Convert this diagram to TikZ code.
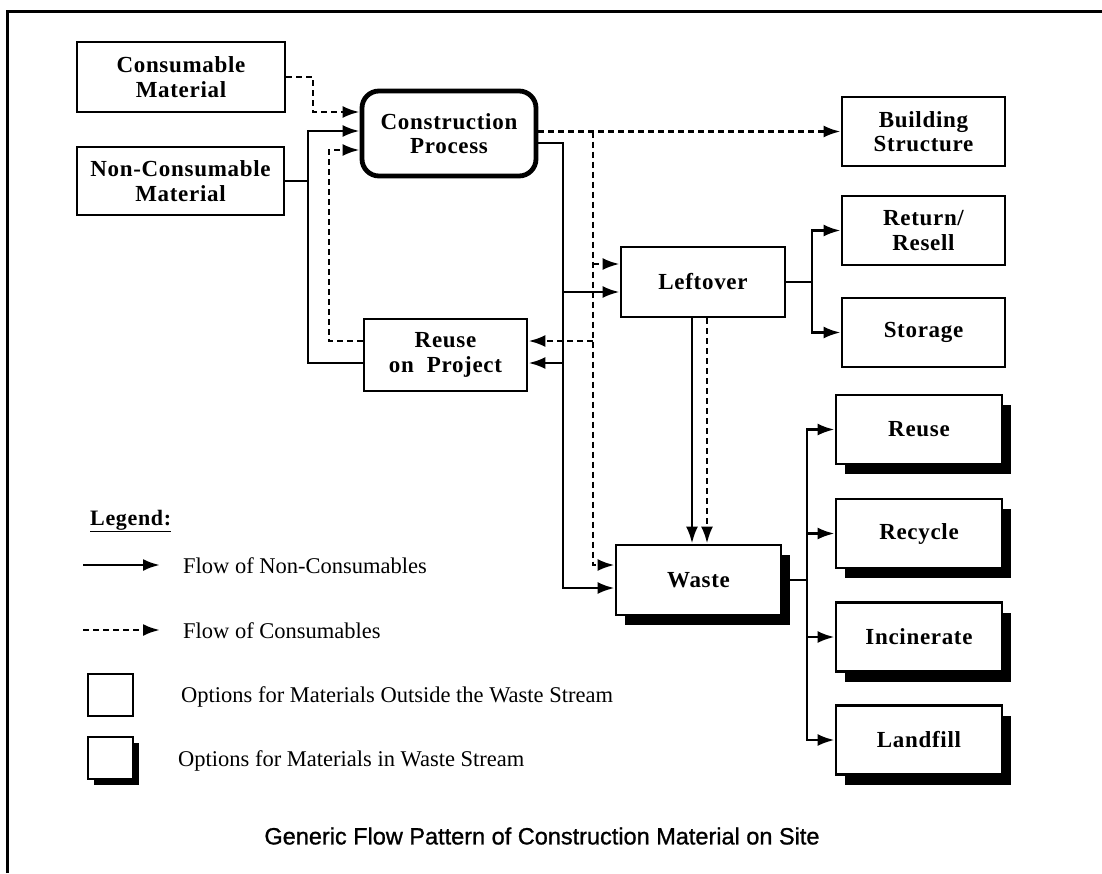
\documentclass[tikz,border=0pt]{standalone}
\usepackage{fontspec}
\setmainfont{Liberation Serif}
\newfontfamily\boxfont[LetterSpace=3]{Liberation Serif}
\newfontfamily\titlefont[FakeBold=1]{Liberation Sans}
\usetikzlibrary{arrows.meta,shadows}

\begin{document}
\begin{tikzpicture}[x=1pt,y=-1pt,
  box/.style={draw, line width=2.8pt, fill=white, inner sep=0pt, align=center,
    font=\boxfont\bfseries\fontsize{23}{24.5}\selectfont},
  wbox/.style={box, drop shadow={shadow xshift=9pt, shadow yshift=-10pt, fill=black, opacity=1}},
  plain/.style={line width=2.8pt},
  nflow/.style={line width=2.8pt, -{Latex[length=17pt,width=12pt]}},
  cflow/.style={nflow, dash pattern=on 6pt off 4pt},
  legtext/.style={anchor=west, inner sep=0pt, font=\fontsize{22.5}{24}\selectfont}
]
\useasboundingbox (0,0) rectangle (1102,873);

% page frame (top and left rules)
\draw[line width=3pt] (7,873) -- (7,11) -- (1102,11);

% material sources and the process
\node[box, minimum width=208pt, minimum height=70pt] (cons) at (181,77) {Consumable\\Material};
\node[box, minimum width=207pt, minimum height=68pt] (noncons) at (180.5,181) {Non-Consumable\\Material};
\node[box, line width=4.8pt, rounded corners=17pt, minimum width=174pt, minimum height=85pt] (proc) at (449,133.5) {Construction\\Process};

% options outside the waste stream
\node[box, minimum width=163pt, minimum height=69pt] (build) at (923.5,131.5) {Building\\Structure};
\node[box, minimum width=163pt, minimum height=69pt] (ret) at (923.5,230.5) {Return/\\Resell};
\node[box, minimum width=163pt, minimum height=69pt] (stor) at (923.5,332.5) {Storage};
\node[box, minimum width=164pt, minimum height=70pt] (lft) at (703,282) {Leftover};
\node[box, minimum width=163pt, minimum height=72pt] (rop) at (445.5,355) {Reuse\\on\ \ Project};

% options in the waste stream
\node[wbox, minimum width=165pt, minimum height=70pt] (waste) at (698.5,580) {Waste};
\node[wbox, minimum width=166pt, minimum height=69pt] (reuse) at (919,429.5) {Reuse};
\node[wbox, minimum width=166pt, minimum height=69pt] (recyc) at (919,533.5) {Recycle};
\node[wbox, minimum width=166pt, minimum height=69pt] (incin) at (919,637) {Incinerate};
\node[wbox, minimum width=166pt, minimum height=69pt] (land) at (919,740) {Landfill};

% inputs to the process
\draw[cflow] (cons.east) -| (313,112) -- (proc.west |- 0,112);
\draw[plain] (noncons.east) -- (308,181);
\draw[nflow] (rop.west |- 0,363) -| (308,131) -- (proc.west |- 0,131);
\draw[cflow] (rop.west |- 0,341) -| (329,150) -- (proc.west |- 0,150);

% consumables leaving the process
\draw[cflow] (proc.east |- build.west) -- (build.west);
\draw[cflow] (593,131.5) -- (593,565) -- (waste.west |- 0,565);
\draw[cflow] (593,264) -- (lft.west |- 0,264);
\draw[cflow] (593,341) -- (rop.east |- 0,341);

% non-consumables leaving the process
\draw[nflow] (proc.east |- 0,143) -| (563,588) -- (waste.west |- 0,588);
\draw[nflow] (563,292) -- (lft.west |- 0,292);
\draw[nflow] (563,363) -- (rop.east |- 0,363);

% leftover
\draw[nflow] (lft.south -| 692,0) -- (waste.north -| 692,0);
\draw[cflow] (lft.south -| 707,0) -- (waste.north -| 707,0);
\draw[plain] (lft.east) -- (812,282);
\draw[nflow] (812,282) |- (ret.west);
\draw[nflow] (812,282) |- (stor.west);

% waste
\draw[plain] (waste.east) -- (807,580);
\draw[nflow] (807,580) |- (reuse.west);
\draw[nflow] (807,580) |- (recyc.west);
\draw[nflow] (807,580) |- (incin.west);
\draw[nflow] (807,580) |- (land.west);

% legend
\node[anchor=west, inner sep=0pt, font=\boxfont\bfseries\fontsize{22}{24}\selectfont] (legtitle) at (90,521) {\underline{Legend:}};
\coordinate (l1a) at (83,565);
\coordinate (l1b) at (160,565);
\draw[nflow] (l1a) -- (l1b);
\node[legtext] (l1t) at (183,566) {Flow of Non-Consumables};
\coordinate (l2a) at (83,630);
\coordinate (l2b) at (160,630);
\draw[cflow] (l2a) -- (l2b);
\node[legtext] (l2t) at (183,631) {Flow of Consumables};
\node[draw, fill=white, line width=2.8pt, minimum width=45pt, minimum height=42pt, inner sep=0pt] (lb1) at (110.5,695) {};
\node[legtext] (lb1t) at (181,697) {Options for Materials Outside the Waste Stream};
\node[draw, fill=white, line width=2.8pt, minimum width=45pt, minimum height=42pt, inner sep=0pt,
  drop shadow={shadow xshift=6pt, shadow yshift=-6pt, fill=black, opacity=1}] (lb2) at (110.5,758) {};
\node[legtext] (lb2t) at (178,761) {Options for Materials in Waste Stream};

% caption
\node[font=\titlefont\fontsize{23.5}{28}\selectfont] (title) at (542,836) {Generic Flow Pattern of Construction Material on Site};
\end{tikzpicture}
\end{document}
